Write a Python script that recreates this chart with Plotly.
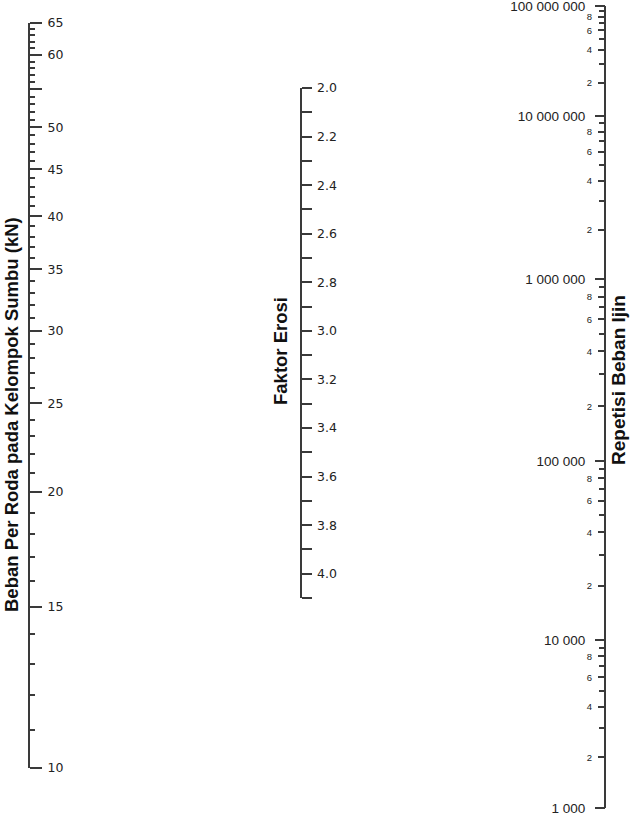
import plotly.graph_objects as go

load_major = [10, 15, 20, 25, 30, 35, 40, 45, 50, 55, 60, 65]
load_major_labels = ["10", "15", "20", "25", "30", "35", "40", "45", "50", "", "60", "65"]
load_minor = [11, 12, 13, 14, 16, 17, 18, 19, 21, 22, 23, 24, 26, 27, 28, 29,
              31, 32, 33, 34, 36, 37, 38, 39, 41, 42, 43, 44, 46, 47, 48, 49,
              51, 52, 53, 54, 56, 57, 58, 59, 61, 62, 63, 64]

erosion_ticks = [2.0, 2.1, 2.2, 2.3, 2.4, 2.5, 2.6, 2.7, 2.8, 2.9, 3.0, 3.1,
                 3.2, 3.3, 3.4, 3.5, 3.6, 3.7, 3.8, 3.9, 4.0, 4.1]
erosion_labels = ["2.0", "", "2.2", "", "2.4", "", "2.6", "", "2.8", "", "3.0", "",
                  "3.2", "", "3.4", "", "3.6", "", "3.8", "", "4.0", ""]

rep_decades = [1000, 10000, 100000, 1000000, 10000000, 100000000]
rep_decade_labels = ["1 000", "10 000", "100 000", "1 000 000", "10 000 000", "100 000 000"]
rep_labeled_mult = [2, 4, 6, 8]
rep_labeled_text = ["2", "4", "6", "8"]
rep_unlabeled_mult = [3, 5, 7, 9]

titles = ["Beban Per Roda pada Kelompok Sumbu (kN)", "Faktor Erosi", "Repetisi Beban Ijin"]

# ---------------- layout geometry (pixels of the 630 x 817 page) ----------------
W, H = 630, 817
left_x, mid_x, right_x = 29, 300.5, 605
left_pix = (768, 23)          # y pixel of 10 and 65
mid_pix = (598, 88)           # y pixel of 4.1 and 2.0
right_pix = [808, 640, 461, 279, 116, 6]   # y pixel of each decade boundary

LINE = "#3a3a3a"
TICKFONT = dict(family="DejaVu Sans", size=12.5, color="#222")
RFONT = dict(family="Liberation Sans, Arial", size=13.5, color="#222")
RSMALL = dict(family="Liberation Sans, Arial", size=9.5, color="#222")


def dom(pb, pt):
    return [1 - pb / H, 1 - pt / H]


fig = go.Figure()
layout = dict(
    width=W, height=H, margin=dict(l=0, r=0, t=0, b=0, pad=0, autoexpand=False),
    paper_bgcolor="white", plot_bgcolor="rgba(0,0,0,0)", showlegend=False,
    xaxis=dict(visible=False, range=[0, 1], domain=[0, 1], fixedrange=True,
               automargin=False),
)

def add_hidden(yname, vals):
    fig.add_trace(go.Scatter(x=[0.5] * len(vals), y=vals, mode="markers",
                             marker=dict(opacity=0, size=1), hoverinfo="skip",
                             xaxis="x", yaxis=yname, showlegend=False))

# Left: load per wheel (log)
layout["yaxis"] = dict(
    type="log", range=[1, 1.8129], domain=dom(*left_pix), anchor="free",
    position=left_x / W, side="right", showline=True, linecolor=LINE, linewidth=2,
    ticks="outside", ticklen=12, tickwidth=1.5, tickcolor=LINE,
    tickmode="array", tickvals=load_major, ticktext=load_major_labels,
    tickfont=TICKFONT, ticklabelstandoff=3, showgrid=False, zeroline=False,
    minor=dict(tickmode="array", tickvals=load_minor, ticks="outside", ticklen=5,
               tickwidth=1.5, tickcolor=LINE, showgrid=False),
    fixedrange=True, automargin=False, ticklabeloverflow="allow",
)
add_hidden("y", load_major)

# Middle: erosion factor (linear, reversed)
layout["yaxis2"] = dict(
    range=[4.1, 2.0], domain=dom(*mid_pix), anchor="free", position=mid_x / W,
    side="right", showline=True, linecolor=LINE, linewidth=2,
    ticks="outside", ticklen=10, tickwidth=1.5, tickcolor=LINE,
    tickmode="array", tickvals=erosion_ticks, ticktext=erosion_labels,
    tickfont=TICKFONT, ticklabelstandoff=3, showgrid=False, zeroline=False,
    fixedrange=True, automargin=False, ticklabeloverflow="allow",
)
add_hidden("y2", erosion_ticks)

# Right: allowable repetitions, one log segment per decade
n = 3
for i in range(len(rep_decades) - 1):
    b = rep_decades[i]
    lab_vals = [m * b for m in rep_labeled_mult]
    un_vals = [m * b for m in rep_unlabeled_mult]
    base = f"yaxis{n}"
    bname = f"y{n}"
    layout[base] = dict(
        type="log", range=[len(str(b)) - 1, len(str(b))],
        domain=dom(right_pix[i], right_pix[i + 1]), anchor="free",
        position=right_x / W, side="left", showline=True, linecolor=LINE, linewidth=2,
        ticks="outside", ticklen=6, tickwidth=1.5, tickcolor=LINE,
        tickmode="array", tickvals=lab_vals, ticktext=rep_labeled_text,
        tickfont=RSMALL, ticklabelstandoff=4, showgrid=False, zeroline=False,
        minor=dict(tickmode="array", tickvals=un_vals, ticks="outside", ticklen=5,
                   tickwidth=1.5, tickcolor=LINE, showgrid=False),
        fixedrange=True, automargin=False, ticklabeloverflow="allow",
    )
    add_hidden(bname, lab_vals)
    n += 1
    maj_vals = [b]
    maj_text = [rep_decade_labels[i]]
    if i == len(rep_decades) - 2:
        maj_vals.append(rep_decades[i + 1])
        maj_text.append(rep_decade_labels[i + 1])
    layout[f"yaxis{n}"] = dict(
        type="log", range=[len(str(b)) - 1, len(str(b))], overlaying=bname,
        anchor="free", position=right_x / W, side="left", showline=False,
        ticks="outside", ticklen=10, tickwidth=1.5, tickcolor=LINE,
        tickmode="array", tickvals=maj_vals, ticktext=maj_text,
        tickfont=RFONT, ticklabelstandoff=7, showgrid=False, zeroline=False,
        fixedrange=True, automargin=False, ticklabeloverflow="allow",
    )
    add_hidden(f"y{n}", maj_vals)
    n += 1

TFONT = dict(family="Liberation Sans, Arial", size=18.5, color="#111")
layout["annotations"] = [
    dict(text=f"<b>{titles[0]}</b>", x=12 / W, y=1 - 415 / H, xref="paper", yref="paper",
         textangle=-90, showarrow=False, font=TFONT, xanchor="center", yanchor="middle"),
    dict(text=f"<b>{titles[1]}</b>", x=281 / W, y=1 - 351 / H, xref="paper", yref="paper",
         textangle=-90, showarrow=False, font=TFONT, xanchor="center", yanchor="middle"),
    dict(text=f"<b>{titles[2]}</b>", x=619 / W, y=1 - 380 / H, xref="paper", yref="paper",
         textangle=-90, showarrow=False, font=dict(TFONT, size=19),
         xanchor="center", yanchor="middle"),
]

fig.update_layout(**layout)
fig.write_html("out.html", config={"displayModeBar": False},
               post_script="document.body.style.margin='0';document.body.style.overflow='hidden';")
